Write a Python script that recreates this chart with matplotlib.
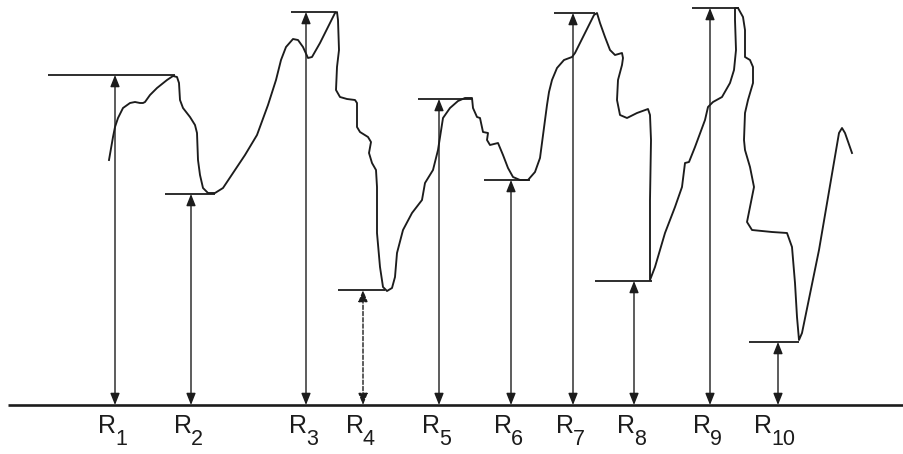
import matplotlib
matplotlib.use("Agg")
import matplotlib.pyplot as plt

# ---- data (heights above the baseline, x positions along the profile) ----
labels = ["1", "2", "3", "4", "5", "6", "7", "8", "9", "10"]
arrow_x = [115, 191, 306, 363, 439, 511, 573, 634, 710, 778]
levels = [330, 211, 393, 115, 306, 225, 392, 124, 397, 63]
level_x0 = [48, 165, 291, 338, 418, 484, 554, 595, 692, 749]
level_x1 = [175, 215, 336, 385, 472, 530, 595, 652, 739, 799]
dashed = [False, False, False, True, False, False, False, False, False, False]

profile_x = [109, 113, 115, 118, 123, 130, 135, 140, 143, 145, 150, 157, 167, 173,
             177, 179, 180, 183, 190, 195, 197, 198, 200, 203, 208, 215, 223, 233,
             245, 257, 268, 276, 281, 286, 293, 298, 303, 308, 312, 320, 330, 335,
             337, 338, 339, 337, 336, 340, 347, 355, 357, 357, 360, 368, 371, 369,
             372, 376, 377, 377, 380, 383, 387, 392, 395, 397, 403, 412, 422, 425,
             433, 438, 443, 450, 458, 465, 472, 473, 477, 480, 483, 488, 487, 490,
             498, 503, 508, 513, 520, 528, 535, 540, 543, 547, 549, 552, 557, 564,
             572, 575, 585, 594, 597, 600, 605, 610, 615, 622, 623, 622, 618, 617,
             620, 627, 637, 648, 650, 651, 650, 650, 650, 655, 665, 675, 682, 685,
             689, 695, 705, 708, 713, 722, 730, 734, 736, 735, 735, 738, 743, 745,
             745, 750, 753, 753, 748, 745, 744, 745, 750, 754, 750, 747, 752, 772,
             787, 792, 795, 797, 799, 802, 819, 839, 842, 845, 852]
profile_h = [245, 268, 278, 287, 297, 302, 303, 302, 302, 303, 310, 317, 325, 329,
             328, 322, 305, 297, 288, 280, 272, 245, 230, 217, 212, 212, 217, 232,
             250, 270, 300, 325, 345, 358, 366, 365, 358, 347, 348, 362, 382, 392,
             393, 385, 355, 338, 315, 308, 306, 305, 302, 278, 273, 268, 263, 252,
             242, 235, 218, 172, 138, 118, 114, 117, 128, 152, 175, 192, 205, 222,
             235, 255, 287, 297, 304, 307, 307, 297, 288, 287, 273, 272, 265, 260,
             262, 250, 237, 228, 225, 225, 233, 247, 270, 300, 313, 325, 337, 345,
             348, 352, 372, 390, 392, 382, 368, 355, 350, 352, 347, 340, 325, 305,
             290, 287, 292, 296, 290, 265, 205, 138, 125, 138, 172, 198, 218, 242,
             243, 258, 285, 298, 303, 308, 322, 335, 355, 385, 397, 397, 388, 375,
             348, 345, 338, 322, 305, 292, 265, 255, 238, 218, 198, 183, 175, 173,
             172, 158, 122, 88, 65, 72, 155, 272, 277, 272, 252]

# ---- figure ----
fig = plt.figure(figsize=(9.04, 4.54), dpi=100)
ax = fig.add_axes([0, 0, 1, 1])
ax.set_xlim(0, 904)
ax.set_ylim(-49, 405)
ax.axis("off")

ink = "#1c1c1c"

# baseline
ax.plot([8, 904], [0, 0], color=ink, lw=1.9, solid_capstyle="butt")

# profile curve
ax.plot(profile_x, profile_h, color=ink, lw=1.35, solid_joinstyle="round")

# level lines, arrows and labels
for lab, x, lv, a, b, d in zip(labels, arrow_x, levels, level_x0, level_x1, dashed):
    ax.plot([a, b], [lv, lv], color=ink, lw=1.3, solid_capstyle="butt")
    ax.annotate("", xy=(x, lv), xytext=(x, 0),
                arrowprops=dict(arrowstyle="<|-|>,head_length=0.7,head_width=0.28",
                                color=ink, lw=1.0, shrinkA=0, shrinkB=0,
                                linestyle=(0, (3, 1.5)) if d else "solid"))
    xc = x + 1 - (7 if len(lab) > 1 else 0)
    ax.text(xc, -28, "R", ha="right", va="baseline", fontsize=18,
            family="Liberation Sans", color=ink)
    ax.text(xc - 1, -40, lab, ha="left", va="baseline", fontsize=15.5,
            family="Liberation Sans", color=ink)

fig.savefig("out.png", dpi=100, facecolor="white")
